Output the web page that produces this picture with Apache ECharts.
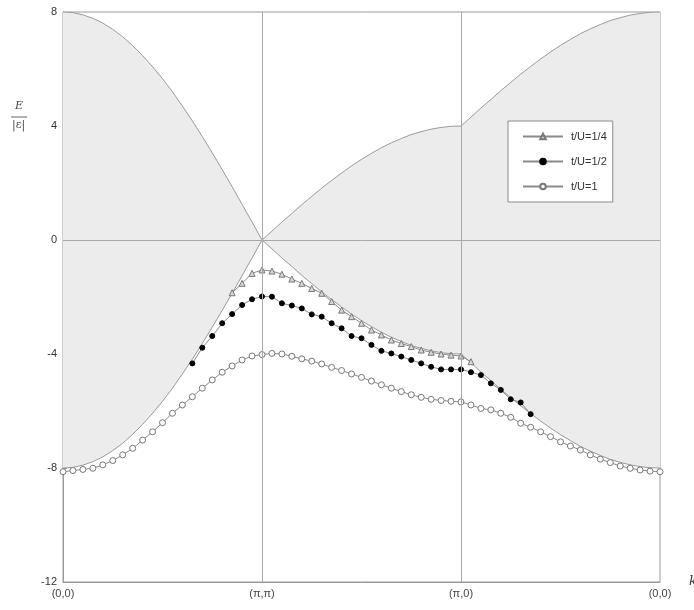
<!DOCTYPE html>
<html>
<head>
<meta charset="utf-8">
<script src="https://cdn.jsdelivr.net/npm/echarts@6/dist/echarts.min.js"></script>
<style>
  html, body { margin: 0; padding: 0; background: #fff; }
  #main { width: 694px; height: 610px; }
</style>
</head>
<body>
<div id="main"></div>
<script>
// k-path ticks: 20 steps per segment
var tickLabels = ['(0,0)', '(π,π)', '(π,0)', '(0,0)'];
var tickPos = [0, 20, 40, 60];

// edges of the shaded band, one value per k step (0..60)
var upperEdge = [
  8.00, 7.98, 7.90, 7.78, 7.61, 7.39, 7.13, 6.82, 6.47, 6.08, 5.66,
  5.20, 4.70, 4.18, 3.63, 3.06, 2.47, 1.87, 1.25, 0.63, 0.00,
  0.31, 0.63, 0.93, 1.24, 1.53, 1.82, 2.09, 2.35, 2.60, 2.83,
  3.04, 3.24, 3.41, 3.56, 3.70, 3.80, 3.89, 3.95, 3.99, 4.00,
  4.31, 4.63, 4.93, 5.24, 5.53, 5.82, 6.09, 6.35, 6.60, 6.83,
  7.04, 7.24, 7.41, 7.56, 7.70, 7.80, 7.89, 7.95, 7.99, 8.00
];
var lowerEdge = [
  -8.00, -7.98, -7.90, -7.78, -7.61, -7.39, -7.13, -6.82, -6.47, -6.08, -5.66,
  -5.20, -4.70, -4.18, -3.63, -3.06, -2.47, -1.87, -1.25, -0.63, 0.00,
  -0.31, -0.63, -0.93, -1.24, -1.53, -1.82, -2.09, -2.35, -2.60, -2.83,
  -3.04, -3.24, -3.41, -3.56, -3.70, -3.80, -3.89, -3.95, -3.99, -4.00,
  -4.31, -4.63, -4.93, -5.24, -5.53, -5.82, -6.09, -6.35, -6.60, -6.83,
  -7.04, -7.24, -7.41, -7.56, -7.70, -7.80, -7.89, -7.95, -7.99, -8.00
];

// t/U = 1/4, from k step 17
var quarterStart = 17;
var quarterVals = [
  -1.85, -1.52, -1.17, -1.05,
  -1.09, -1.20, -1.37, -1.52, -1.70, -1.87, -2.16, -2.46, -2.69, -2.92,
  -3.16, -3.33, -3.51, -3.63, -3.74, -3.86, -3.94, -4.00, -4.04, -4.07,
  -4.27
];

// t/U = 1/2, from k step 13
var halfStart = 13;
var halfVals = [
  -4.33, -3.78, -3.37, -2.92, -2.60, -2.28, -2.08, -1.98,
  -1.99, -2.22, -2.30, -2.40, -2.61, -2.69, -2.92, -3.10, -3.37, -3.45,
  -3.68, -3.89, -3.98, -4.09, -4.21, -4.33, -4.45, -4.54, -4.54, -4.54,
  -4.64, -4.74, -5.03, -5.26, -5.59, -5.70, -6.11
];

// t/U = 1, whole path
var oneStart = 0;
var oneVals = [
  -8.13, -8.09, -8.05, -8.01, -7.89, -7.74, -7.54, -7.31, -7.02, -6.73, -6.41,
  -6.08, -5.79, -5.50, -5.20, -4.91, -4.64, -4.42, -4.21, -4.07, -4.02,
  -3.98, -4.00, -4.08, -4.17, -4.25, -4.35, -4.47, -4.58, -4.70, -4.82,
  -4.95, -5.08, -5.20, -5.32, -5.43, -5.52, -5.59, -5.63, -5.66, -5.68,
  -5.79, -5.91, -5.96, -6.08, -6.22, -6.43, -6.57, -6.73, -6.90, -7.08,
  -7.23, -7.37, -7.54, -7.69, -7.81, -7.93, -8.01, -8.07, -8.11, -8.13
];

function pairs(start, vals) {
  return vals.map(function (v, i) { return [start + i, v]; });
}

var gray = '#8a8a8a';
var fillGray = '#ececec';

var chart = echarts.init(document.getElementById('main'));

var option = {
  animation: false,
  backgroundColor: '#fff',
  grid: {
    left: 63, right: 34, top: 12, bottom: 28,
    outerBoundsMode: 'none', containLabel: false,
    show: true, borderColor: '#9a9a9a', borderWidth: 1, backgroundColor: '#fff'
  },
  legend: {
    data: ['t/U=1/4', 't/U=1/2', 't/U=1'],
    orient: 'vertical',
    left: 508, top: 121,
    itemWidth: 40, itemHeight: 7, itemGap: 14,
    padding: [10, 6, 10, 14],
    backgroundColor: '#fff',
    borderColor: '#8a8a8a', borderWidth: 1, borderRadius: 0,
    textStyle: { fontFamily: 'Liberation Sans, Arial', fontSize: 11, color: '#333', padding: [0, 0, 0, 3] }
  },
  xAxis: {
    type: 'value', min: 0, max: 60, interval: 20,
    name: 'k', nameLocation: 'end', nameGap: 29,
    nameTextStyle: { fontFamily: 'DejaVu Serif', fontStyle: 'italic', fontSize: 13, color: '#333' },
    axisLine: { show: true, onZero: false, lineStyle: { color: '#9a9a9a' } },
    axisTick: { show: false },
    splitLine: { show: false },
    axisLabel: {
      margin: 6, fontFamily: 'Liberation Sans, Arial', fontSize: 11, color: '#444',
      showMinLabel: true, showMaxLabel: true,
      formatter: function (v) {
        var idx = tickPos.indexOf(v);
        return idx >= 0 ? tickLabels[idx] : '';
      }
    }
  },
  yAxis: {
    type: 'value', min: -12, max: 8, interval: 4,
    axisLine: { show: true, onZero: false, lineStyle: { color: '#9a9a9a' } },
    axisTick: { show: true, inside: true, length: 4, lineStyle: { color: '#9a9a9a' } },
    splitLine: { show: false },
    axisLabel: { margin: 6, fontFamily: 'Liberation Sans, Arial', fontSize: 11, color: '#333' }
  },
  graphic: [
    { type: 'text', left: 15, top: 101, style: { text: 'E', font: 'italic 11px DejaVu Serif', fill: '#444' } },
    { type: 'line', shape: { x1: 11, y1: 117, x2: 27, y2: 117 }, style: { stroke: '#666', lineWidth: 1 } },
    { type: 'text', left: 12, top: 120, style: { text: '|ε|', font: '11px DejaVu Serif', fill: '#444' } }
  ],
  series: [
    {
      name: 'upper', type: 'line', data: pairs(0, upperEdge),
      symbol: 'none', smooth: false, silent: true, z: 1,
      lineStyle: { color: '#9a9a9a', width: 1 },
      areaStyle: { color: fillGray, opacity: 1, origin: 0 }
    },
    {
      name: 'lower', type: 'line', data: pairs(0, lowerEdge),
      symbol: 'none', smooth: false, silent: true, z: 1,
      lineStyle: { color: '#9a9a9a', width: 1 },
      areaStyle: { color: fillGray, opacity: 1, origin: 0 }
    },
    {
      name: 'guides', type: 'line', data: [], z: 2, silent: true,
      markLine: {
        symbol: 'none', silent: true, label: { show: false },
        lineStyle: { color: '#a8a8a8', width: 1, type: 'solid' },
        data: [{ xAxis: 20 }, { xAxis: 40 }, { yAxis: 0 }]
      }
    },
    {
      name: 't/U=1/4', type: 'line', data: pairs(quarterStart, quarterVals), z: 3,
      symbol: 'triangle', symbolSize: 6,
      itemStyle: { color: '#d8d8d8', borderColor: '#777', borderWidth: 1 },
      lineStyle: { color: gray, width: 1 }
    },
    {
      name: 't/U=1/2', type: 'line', data: pairs(halfStart, halfVals), z: 3,
      symbol: 'circle', symbolSize: 5,
      itemStyle: { color: '#000', borderColor: '#000', borderWidth: 1 },
      lineStyle: { color: gray, width: 1 }
    },
    {
      name: 't/U=1', type: 'line', data: pairs(oneStart, oneVals), z: 3,
      symbol: 'circle', symbolSize: 6,
      itemStyle: { color: '#fff', borderColor: '#777', borderWidth: 1 },
      lineStyle: { color: gray, width: 1 }
    }
  ]
};

chart.setOption(option);
</script>
</body>
</html>
